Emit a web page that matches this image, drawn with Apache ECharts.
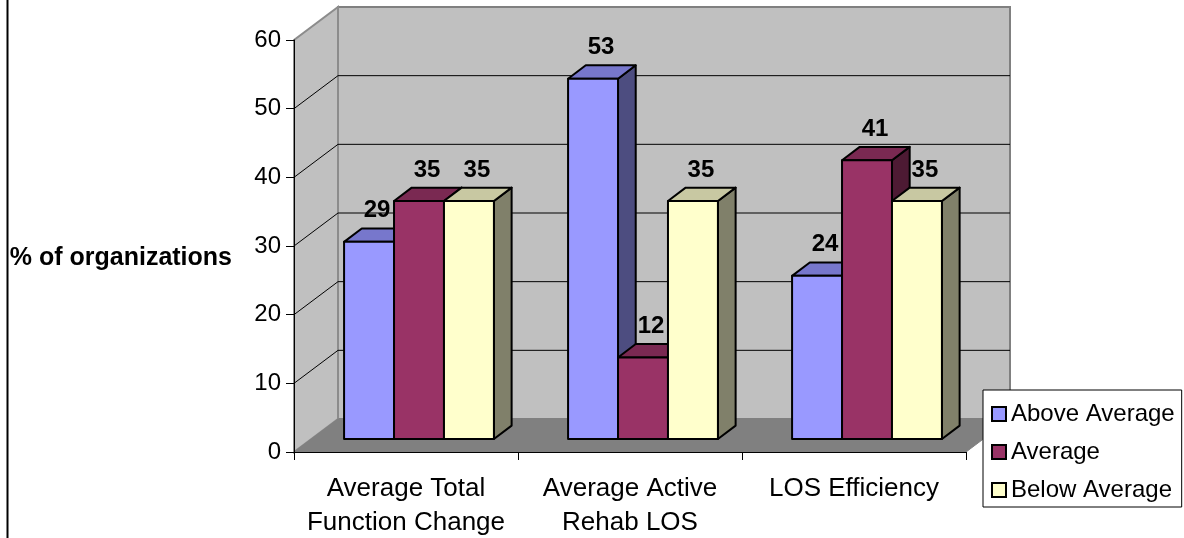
<!DOCTYPE html>
<html>
<head>
<meta charset="utf-8">
<script src="https://cdn.jsdelivr.net/npm/echarts@6/dist/echarts.min.js"></script>
<style>
  html, body { margin: 0; padding: 0; background: #fff; }
  #chart { width: 1184px; height: 538px; }
</style>
</head>
<body>
<div id="chart"></div>
<script>
// Outcome groups and the share of organizations in each rating band
const categories = ['Average Total\nFunction Change', 'Average Active\nRehab LOS', 'LOS Efficiency'];
const seriesNames = ['Above Average', 'Average', 'Below Average'];
const aboveAverage = [29, 53, 24];
const average = [35, 12, 41];
const belowAverage = [35, 35, 35];
const valueTicks = [0, 10, 20, 30, 40, 50, 60];

const FONT = '"Liberation Sans", Arial, sans-serif';

// Oblique depth of the plot box (back wall offset from the front plane)
const DEPTH = [44, -33];
// Bars stand part-way into the box and have their own depth
const BAR_FRONT = [13, -13];
const BAR_DEPTH = [17.7, -13.4];
const BAR_SCALE = 0.99;
const BAR_FRAC = 0.223;

// Face colours per series: front, top, side
const faces = [
  { front: '#9999ff', top: '#7777cc', side: '#4d4d80' },
  { front: '#993366', top: '#7a2952', side: '#4d1a33' },
  { front: '#ffffcc', top: '#c8c8a2', side: '#80806a' }
];

const chart = echarts.init(document.getElementById('chart'), null, { renderer: 'canvas' });

// Walls, floor and gridlines of the 3D box
function renderFrame(params, api) {
  const cs = params.coordSys;
  const x0 = cs.x, x1 = cs.x + cs.width;
  const y0 = api.coord([0, valueTicks[0]])[1];
  const yTop = api.coord([0, valueTicks[valueTicks.length - 1]])[1];
  const dx = DEPTH[0], dy = DEPTH[1];
  const children = [];
  // back wall
  children.push({
    type: 'polygon',
    shape: { points: [[x0 + dx, yTop + dy], [x1 + dx, yTop + dy], [x1 + dx, y0 + dy], [x0 + dx, y0 + dy]] },
    style: { fill: '#c0c0c0', stroke: '#808080', lineWidth: 2 }
  });
  // left side wall
  children.push({
    type: 'polygon',
    shape: { points: [[x0, y0], [x0, yTop], [x0 + dx, yTop + dy], [x0 + dx, y0 + dy]] },
    style: { fill: '#c0c0c0', stroke: '#8c8c8c', lineWidth: 2 }
  });
  // floor
  children.push({
    type: 'polygon',
    shape: { points: [[x0, y0], [x1, y0], [x1 + dx, y0 + dy], [x0 + dx, y0 + dy]] },
    style: { fill: '#808080', stroke: '#808080', lineWidth: 1 }
  });
  // gridlines on both walls
  valueTicks.slice(1, -1).forEach(function (v) {
    const y = api.coord([0, v])[1];
    children.push({
      type: 'line',
      shape: { x1: x0, y1: y, x2: x0 + dx, y2: y + dy },
      style: { stroke: '#000', lineWidth: 1 }
    });
    children.push({
      type: 'line',
      shape: { x1: x0 + dx, y1: y + dy, x2: x1 + dx, y2: y + dy },
      style: { stroke: '#000', lineWidth: 1 }
    });
  });
  return { type: 'group', children: children };
}

// One 3D bar (front, top and side faces) plus its value label
function makeBarRenderer(seriesIndex) {
  return function (params, api) {
    const cat = api.value(0);
    const v = api.value(1);
    const base = api.coord([cat, 0]);
    const topPt = api.coord([cat, v]);
    const band = api.size([1, 0])[0];
    const w = band * BAR_FRAC;
    const left = base[0] - 1.5 * w + seriesIndex * w + BAR_FRONT[0];
    const right = left + w;
    const bottom = base[1] + BAR_FRONT[1];
    const top = bottom - (base[1] - topPt[1]) * BAR_SCALE;
    const ddx = BAR_DEPTH[0], ddy = BAR_DEPTH[1];
    const c = faces[seriesIndex];
    const stroke = { stroke: '#000', lineWidth: 2, lineJoin: 'round' };
    return {
      type: 'group',
      children: [
        {
          type: 'polygon',
          shape: { points: [[right, top], [right + ddx, top + ddy], [right + ddx, bottom + ddy], [right, bottom]] },
          style: Object.assign({ fill: c.side }, stroke)
        },
        {
          type: 'polygon',
          shape: { points: [[left, top], [right, top], [right + ddx, top + ddy], [left + ddx, top + ddy]] },
          style: Object.assign({ fill: c.top }, stroke)
        },
        {
          type: 'rect',
          shape: { x: left, y: top, width: w, height: bottom - top },
          style: Object.assign({ fill: c.front }, stroke)
        },
        {
          type: 'text',
          x: (left + right) / 2 + 8,
          y: top - 31,
          style: {
            text: String(v),
            fill: '#000',
            font: 'bold 24px ' + FONT,
            align: 'center',
            verticalAlign: 'middle'
          }
        }
      ]
    };
  };
}

const seriesData = [aboveAverage, average, belowAverage];

const series = [
  {
    type: 'custom',
    name: 'frame',
    silent: true,
    renderItem: renderFrame,
    data: [[0, 0]],
    z: 1
  }
].concat(seriesData.map(function (values, i) {
  return {
    type: 'custom',
    name: seriesNames[i],
    renderItem: makeBarRenderer(i),
    itemStyle: { color: faces[i].front },
    data: values.map(function (v, k) { return [k, v]; }),
    z: 2 + i
  };
}));

chart.setOption({
  animation: false,
  backgroundColor: '#fff',
  textStyle: { fontFamily: FONT },
  grid: { left: 294, right: 218, top: 40, bottom: 86, containLabel: false, outerBoundsMode: 'none' },
  xAxis: {
    type: 'category',
    data: categories,
    axisLine: { lineStyle: { color: '#000', width: 1 } },
    axisTick: { show: true, length: 8, lineStyle: { color: '#000' } },
    axisLabel: { color: '#000', fontSize: 26, lineHeight: 34, margin: 20, fontFamily: FONT, interval: 0 },
    splitLine: { show: false },
    z: 10
  },
  yAxis: {
    type: 'value',
    min: valueTicks[0],
    max: valueTicks[valueTicks.length - 1],
    interval: valueTicks[1] - valueTicks[0],
    name: '% of organizations',
    nameLocation: 'middle',
    nameRotate: 0,
    nameGap: 62,
    nameTextStyle: { color: '#000', fontSize: 25, fontWeight: 'bold', fontFamily: FONT, verticalAlign: 'top' },
    axisLine: { show: true, lineStyle: { color: '#000', width: 1 } },
    axisTick: { show: true, length: 8, lineStyle: { color: '#000' } },
    axisLabel: { color: '#000', fontSize: 24, margin: 13, fontFamily: FONT },
    splitLine: { show: false },
    z: 10
  },
  legend: {
    orient: 'vertical',
    left: 983,
    top: 390,
    data: seriesNames,
    icon: 'rect',
    itemWidth: 14,
    itemHeight: 14,
    itemGap: 10,
    selectedMode: false,
    padding: [10, 7, 3, 8],
    backgroundColor: '#fff',
    borderColor: '#000',
    borderWidth: 1,
    borderRadius: 0,
    itemStyle: { borderColor: '#000', borderWidth: 2 },
    textStyle: { color: '#000', fontSize: 24, lineHeight: 28, fontFamily: FONT }
  },
  graphic: [
    {
      type: 'line',
      shape: { x1: 7.5, y1: 0, x2: 7.5, y2: 538 },
      style: { stroke: '#000', lineWidth: 2 },
      silent: true
    }
  ],
  series: series
});
</script>
</body>
</html>
